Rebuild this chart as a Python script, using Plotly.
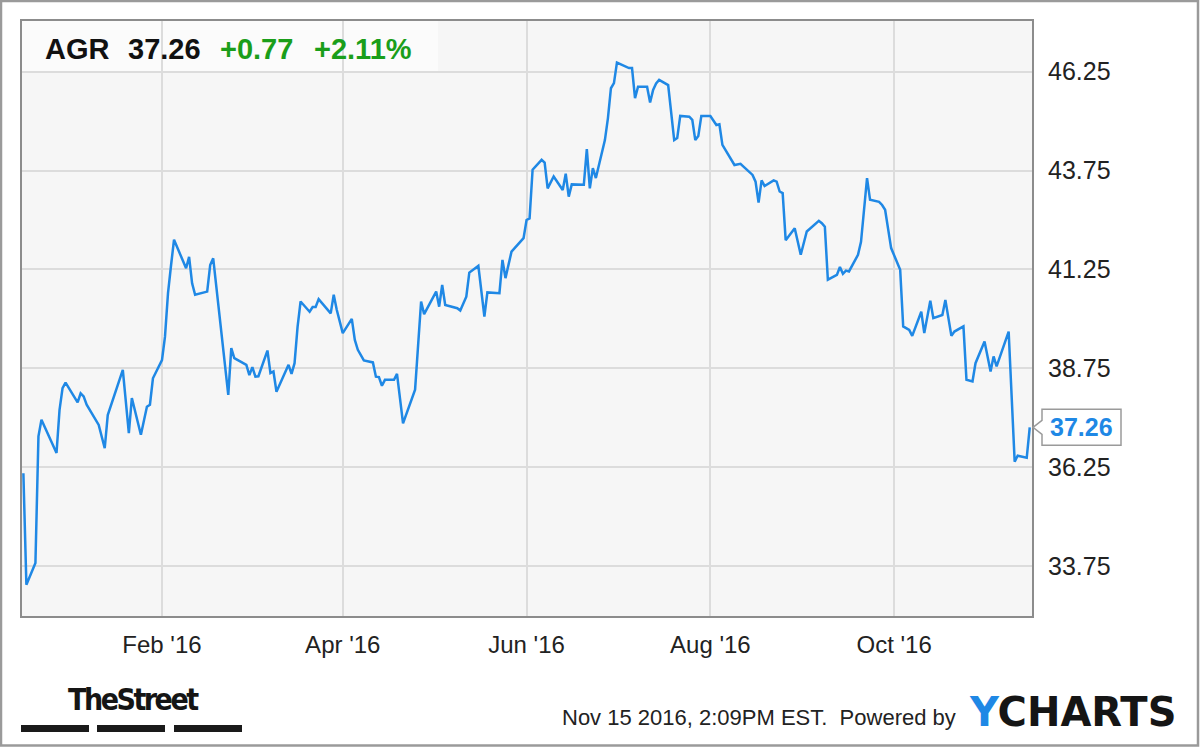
import plotly.graph_objects as go

# AGR daily close
dates = [
    "2015-12-17", "2015-12-18", "2015-12-21", "2015-12-22", "2015-12-23", "2015-12-28",
    "2015-12-29", "2015-12-30", "2015-12-31", "2016-01-04", "2016-01-05", "2016-01-06",
    "2016-01-07", "2016-01-11", "2016-01-13", "2016-01-14", "2016-01-19", "2016-01-21",
    "2016-01-22", "2016-01-25", "2016-01-27", "2016-01-28", "2016-01-29", "2016-02-01",
    "2016-02-02", "2016-02-03", "2016-02-04", "2016-02-05", "2016-02-09", "2016-02-10",
    "2016-02-11", "2016-02-12", "2016-02-16", "2016-02-17", "2016-02-18", "2016-02-23",
    "2016-02-24", "2016-02-25", "2016-02-29", "2016-03-01", "2016-03-02", "2016-03-03",
    "2016-03-04", "2016-03-07", "2016-03-08", "2016-03-09", "2016-03-10", "2016-03-14",
    "2016-03-15", "2016-03-16", "2016-03-17", "2016-03-18", "2016-03-21", "2016-03-22",
    "2016-03-23", "2016-03-24", "2016-03-28", "2016-03-29", "2016-03-30", "2016-04-01",
    "2016-04-04", "2016-04-05", "2016-04-06", "2016-04-08", "2016-04-11", "2016-04-12",
    "2016-04-13", "2016-04-14", "2016-04-15", "2016-04-18", "2016-04-19", "2016-04-21",
    "2016-04-25", "2016-04-27", "2016-04-28", "2016-05-02", "2016-05-03", "2016-05-04",
    "2016-05-05", "2016-05-09", "2016-05-10", "2016-05-11", "2016-05-12", "2016-05-13",
    "2016-05-16", "2016-05-18", "2016-05-19", "2016-05-23", "2016-05-24", "2016-05-25",
    "2016-05-27", "2016-05-31", "2016-06-01", "2016-06-02", "2016-06-03", "2016-06-06",
    "2016-06-07", "2016-06-08", "2016-06-09", "2016-06-10", "2016-06-13", "2016-06-14",
    "2016-06-15", "2016-06-16", "2016-06-20", "2016-06-21", "2016-06-22", "2016-06-23",
    "2016-06-24", "2016-06-27", "2016-06-28", "2016-06-29", "2016-06-30", "2016-07-01",
    "2016-07-05", "2016-07-06", "2016-07-07", "2016-07-08", "2016-07-11", "2016-07-12",
    "2016-07-13", "2016-07-14", "2016-07-15", "2016-07-18", "2016-07-20", "2016-07-21",
    "2016-07-22", "2016-07-25", "2016-07-26", "2016-07-27", "2016-07-28", "2016-07-29",
    "2016-08-01", "2016-08-02", "2016-08-03", "2016-08-04", "2016-08-05", "2016-08-09",
    "2016-08-11", "2016-08-12", "2016-08-15", "2016-08-16", "2016-08-17", "2016-08-18",
    "2016-08-19", "2016-08-22", "2016-08-23", "2016-08-24", "2016-08-25", "2016-08-26",
    "2016-08-29", "2016-08-31", "2016-09-02", "2016-09-06", "2016-09-07", "2016-09-08",
    "2016-09-09", "2016-09-12", "2016-09-13", "2016-09-14", "2016-09-15", "2016-09-16",
    "2016-09-19", "2016-09-20", "2016-09-21", "2016-09-22", "2016-09-23", "2016-09-26",
    "2016-09-27", "2016-09-28", "2016-09-30", "2016-10-03", "2016-10-04", "2016-10-06",
    "2016-10-07", "2016-10-10", "2016-10-11", "2016-10-13", "2016-10-14", "2016-10-17",
    "2016-10-18", "2016-10-20", "2016-10-21", "2016-10-24", "2016-10-25", "2016-10-27",
    "2016-10-28", "2016-10-31", "2016-11-02", "2016-11-03", "2016-11-04", "2016-11-08",
    "2016-11-10", "2016-11-11", "2016-11-14", "2016-11-15",
]
close = [
    36.10, 33.28, 33.83, 37.03, 37.45, 36.61,
    37.70, 38.25, 38.39, 37.89, 38.12, 38.04,
    37.83, 37.32, 36.73, 37.57, 38.71, 37.11,
    38.00, 37.07, 37.78, 37.83, 38.50, 38.96,
    39.55, 40.65, 41.35, 42.00, 41.28, 41.57,
    40.90, 40.61, 40.69, 41.36, 41.53, 38.08,
    39.26, 39.01, 38.84, 38.58, 38.78, 38.54,
    38.55, 39.20, 38.63, 38.67, 38.16, 38.84,
    38.61, 38.88, 39.80, 40.44, 40.18, 40.30,
    40.30, 40.50, 40.14, 40.61, 40.23, 39.64,
    40.00, 39.47, 39.22, 38.95, 38.90, 38.54,
    38.53, 38.31, 38.46, 38.46, 38.61, 37.36,
    38.21, 40.44, 40.12, 40.69, 40.31, 40.86,
    40.35, 40.27, 40.21, 40.40, 40.56, 41.17,
    41.34, 40.06, 40.67, 40.65, 41.49, 41.03,
    41.70, 42.04, 42.50, 42.54, 43.77, 44.02,
    43.95, 43.30, 43.45, 43.60, 43.26, 43.67,
    43.09, 43.40, 43.39, 44.29, 43.30, 43.81,
    43.56, 44.52, 45.07, 45.83, 45.96, 46.48,
    46.34, 46.34, 45.58, 45.87, 45.87, 45.47,
    45.79, 45.95, 46.04, 45.91, 44.52, 44.57,
    45.13, 45.11, 45.03, 44.52, 44.62, 45.13,
    45.13, 45.00, 44.90, 44.92, 44.40, 43.89,
    43.92, 43.85, 43.64, 43.47, 42.94, 43.50,
    43.36, 43.50, 43.47, 43.22, 43.18, 41.99,
    42.29, 41.62, 42.21, 42.48, 42.42, 42.33,
    40.99, 41.11, 41.31, 41.14, 41.22, 41.20,
    41.62, 41.95, 42.84, 43.56, 43.01, 42.96,
    42.88, 42.76, 41.79, 41.24, 39.81, 39.72,
    39.57, 40.18, 39.64, 40.46, 40.02, 40.10,
    40.48, 39.57, 39.68, 39.81, 38.46, 38.42,
    38.88, 39.43, 38.67, 39.05, 38.80, 39.68,
    36.39, 36.54, 36.49, 37.26,
]

ticker = "AGR"
x_tick_dates = ["2016-02-01", "2016-04-01", "2016-06-01", "2016-08-01", "2016-10-01"]
x_tick_labels = ["Feb '16", "Apr '16", "Jun '16", "Aug '16", "Oct '16"]
y_ticks = [33.75, 36.25, 38.75, 41.25, 43.75, 46.25]
stamp = "Nov 15 2016, 2:09PM EST.  Powered by"

last = close[-1]
change = close[-1] - close[-2]
pct = change / close[-2] * 100

W, H = 1200, 747
L, R, T, B = 22, 168, 21, 131
PW, PH = W - L - R, H - T - B


def px(x):
    return (x - L) / PW


def py(y):
    return (H - B - y) / PH


BLUE = "#1f88e5"
GREEN = "#1a9e1a"
FONT = "Liberation Sans, Arial, sans-serif"

fig = go.Figure()
fig.add_trace(go.Scatter(
    x=dates, y=close, mode="lines",
    line=dict(color=BLUE, width=2.5),
    showlegend=False, hoverinfo="x+y",
))

annotations = []
# header
head = [(ticker, 43, "#111"), ("%.2f" % last, 126, "#111"),
        ("%+.2f" % change, 218, GREEN), ("%+.2f%%" % pct, 312, GREEN)]
for txt, x, col in head:
    annotations.append(dict(
        text=txt, x=px(x), y=py(49), xref="paper", yref="paper",
        xanchor="left", yanchor="middle", showarrow=False,
        font=dict(family=FONT, size=29, color=col, weight="bold"),
    ))

# last price callout
annotations.append(dict(
    text="%.2f" % last, x=1, y=last, xref="paper", yref="y",
    xanchor="center", yanchor="middle", xshift=49.5, showarrow=False,
    font=dict(family=FONT, size=25, color=BLUE, weight="bold"),
))

# footer
annotations += [
    dict(text=stamp, x=px(958), y=py(717), xref="paper", yref="paper",
         xanchor="right", yanchor="middle", showarrow=False,
         font=dict(family=FONT, size=22, color="#222")),
    dict(text="<span style='color:%s'>Y</span>CHARTS" % BLUE, x=px(967), y=py(712),
         xref="paper", yref="paper", xanchor="left", yanchor="middle", showarrow=False,
         font=dict(family="DejaVu Sans", size=40, color="#151515", weight="bold")),
    dict(text="<span style='letter-spacing:-2.5px'>TheStreet</span>", x=px(133), y=py(699),
         xref="paper", yref="paper", xanchor="center", yanchor="middle", showarrow=False,
         font=dict(family="DejaVu Sans Condensed, sans-serif",
                   size=30, color="#151515", weight="bold")),
]

shapes = [
    # whole-image frame
    dict(type="rect", xref="paper", yref="paper", x0=px(1), x1=px(1198), y0=py(745.5), y1=py(1),
         line=dict(color="#9a9a9a", width=2.5), fillcolor="rgba(0,0,0,0)", layer="below"),
    # header box
    dict(type="rect", xref="paper", yref="paper", x0=0, x1=px(438), y0=py(72), y1=1,
         line=dict(width=0), fillcolor="rgba(255,255,255,0.6)", layer="below"),
    # callout box with notch
    dict(type="path", xref="paper", yref="y", xsizemode="pixel", ysizemode="pixel",
         xanchor=1, yanchor=last,
         path="M1,0 L10,7 L10,18 L89,18 L89,-18 L10,-18 L10,-7 Z",
         line=dict(color="#9a9a9a", width=1.5), fillcolor="white", layer="above"),
]
for x0, x1 in [(21, 89), (97, 165), (174, 242)]:
    shapes.append(dict(type="rect", xref="paper", yref="paper",
                       x0=px(x0), x1=px(x1), y0=py(732), y1=py(725),
                       line=dict(width=0), fillcolor="#1a1a1a"))

fig.update_layout(
    width=W, height=H, autosize=False,
    margin=dict(l=L, r=R, t=T, b=B),
    paper_bgcolor="white", plot_bgcolor="#f6f6f6",
    font=dict(family=FONT, color="#222"),
    annotations=annotations, shapes=shapes,
    hovermode="closest",
)
fig.update_xaxes(
    type="date", range=["2015-12-16 13:00", "2016-11-15 18:00"],
    tickmode="array", tickvals=x_tick_dates, ticktext=x_tick_labels,
    tickfont=dict(size=24, color="#222"), ticks="", ticklabelstandoff=6,
    showgrid=True, gridcolor="#dcdcdc", gridwidth=2,
    showline=True, linecolor="#8c8c8c", linewidth=2, mirror=True, zeroline=False,
)
fig.update_yaxes(
    side="right", range=[32.49, 47.53],
    tickmode="array", tickvals=y_ticks, tickformat=".2f",
    tickfont=dict(size=25, color="#222"), ticks="", ticklabelstandoff=9,
    showgrid=True, gridcolor="#dcdcdc", gridwidth=2,
    showline=True, linecolor="#8c8c8c", linewidth=2, mirror=True, zeroline=False,
)

fig.write_html("out.html", config={"displayModeBar": False},
               post_script="document.body.style.margin='0';")
